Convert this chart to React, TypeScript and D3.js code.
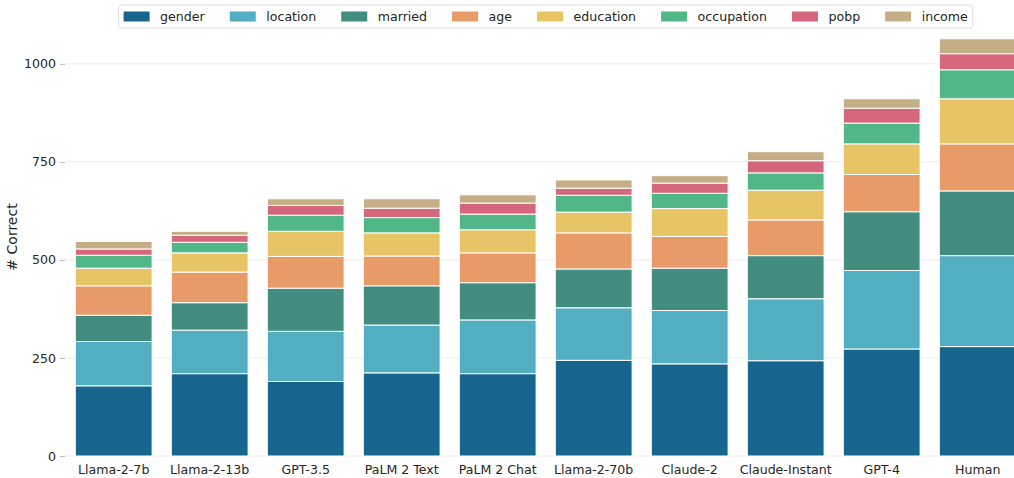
import React, { useEffect, useRef } from 'react';
import * as d3 from 'd3';

const models = ['Llama-2-7b', 'Llama-2-13b', 'GPT-3.5', 'PaLM 2 Text', 'PaLM 2 Chat', 'Llama-2-70b', 'Claude-2', 'Claude-Instant', 'GPT-4', 'Human'];
const attributes = ['gender', 'location', 'married', 'age', 'education', 'occupation', 'pobp', 'income'];
const colors = ['#17648d', '#52aec1', '#428c80', '#e69b68', '#e7c566', '#52b788', '#d5677d', '#c5ad85'];

// per-attribute counts, one value per model (same order as models)
const gender = [179, 210, 190, 212, 210, 244, 235, 243, 273, 279];
const location = [113, 111, 128, 122, 137, 134, 136, 158, 200, 232];
const married = [67, 70, 110, 100, 95, 99, 108, 110, 150, 165];
const age = [75, 78, 81, 76, 76, 92, 81, 91, 95, 120];
const education = [45, 49, 64, 59, 59, 53, 71, 76, 78, 115];
const occupation = [33, 27, 41, 39, 40, 43, 39, 44, 53, 74];
const pobp = [16, 18, 25, 24, 28, 18, 26, 31, 38, 41];
const income = [19, 10, 17, 24, 21, 21, 19, 23, 24, 38];

const yTicks = [0, 250, 500, 750, 1000];

const W = 1014;
const H = 478;

export default function App() {
  const svgRef = useRef<SVGSVGElement>(null);

  useEffect(() => {
    const svg = d3.select(svgRef.current);
    svg.selectAll('*').remove();

    const font = 'DejaVu Sans, sans-serif';
    const fs = 12.6;
    const series = [gender, location, married, age, education, occupation, pobp, income];
    const rows = models.map((m, i) => {
      const r: any = { model: m };
      attributes.forEach((a, j) => { r[a] = series[j][i]; });
      return r;
    });
    const stacked = d3.stack().keys(attributes)(rows);

    const x = d3.scaleBand().domain(models).range([65.7, 1025.7]).paddingInner(0.2).paddingOuter(0.1);
    const y = d3.scaleLinear().domain([0, 1117]).range([456, 18]);
    const color = d3.scaleOrdinal<string>().domain(attributes).range(colors);

    // grid
    svg.append('g')
      .selectAll('line')
      .data(yTicks)
      .join('line')
      .attr('x1', 65.7).attr('x2', W)
      .attr('y1', d => y(d)).attr('y2', d => y(d))
      .attr('stroke', '#ebebeb').attr('stroke-width', 1);

    // y axis
    const yAxis = svg.append('g')
      .attr('transform', 'translate(65,0)')
      .call(d3.axisLeft(y).tickValues(yTicks).tickFormat(d3.format('d')).tickSize(5).tickPadding(4));
    yAxis.select('.domain').remove();
    yAxis.selectAll('.tick line').attr('stroke', '#bbb');
    yAxis.selectAll('text').attr('font-family', font).attr('font-size', fs).attr('fill', '#262626');

    // x axis labels
    const xAxis = svg.append('g')
      .attr('transform', 'translate(0,456)')
      .call(d3.axisBottom(x).tickSize(0).tickPadding(9));
    xAxis.select('.domain').remove();
    xAxis.selectAll('text').attr('font-family', font).attr('font-size', fs).attr('fill', '#262626');

    // bars
    svg.append('g')
      .selectAll('g')
      .data(stacked)
      .join('g')
      .attr('fill', d => color(d.key))
      .selectAll('rect')
      .data(d => d)
      .join('rect')
      .attr('x', d => x(d.data.model as string)!)
      .attr('width', x.bandwidth())
      .attr('y', d => y(d[1]))
      .attr('height', d => y(d[0]) - y(d[1]))
      .attr('stroke', 'white')
      .attr('stroke-width', 1);

    // y label
    svg.append('text')
      .attr('transform', `translate(17,${y(1117 / 2)}) rotate(-90)`)
      .attr('text-anchor', 'middle')
      .attr('font-family', font)
      .attr('font-size', 14)
      .attr('fill', '#262626')
      .text('# Correct');

    // legend
    const handle = 26;
    const textPad = 10.5;
    const colSpace = 25;
    const legend = svg.append('g');
    const box = legend.append('rect')
      .attr('fill', 'white').attr('fill-opacity', 0.85)
      .attr('stroke', '#dddddd').attr('rx', 3);
    let cx = 0;
    attributes.forEach(a => {
      const g = legend.append('g').attr('transform', `translate(${cx},0)`);
      g.append('rect').attr('x', 0).attr('y', -5).attr('width', handle).attr('height', 10).attr('fill', color(a));
      const t = g.append('text')
        .attr('x', handle + textPad).attr('y', 0).attr('dy', '0.35em')
        .attr('font-family', font).attr('font-size', fs).attr('fill', '#262626')
        .text(a);
      const tw = (t.node() as SVGTextElement).getComputedTextLength();
      cx += handle + textPad + tw + colSpace;
    });
    const totalW = cx - colSpace;
    const center = (65.7 + 1025.7) / 2;
    const lx = center - totalW / 2;
    legend.attr('transform', `translate(${lx},16.5)`);
    box.attr('x', -5).attr('y', -11.5).attr('width', totalW + 10).attr('height', 23);
  }, []);

  return (
    <div>
      <style>{`body { margin: 0; }`}</style>
      <svg ref={svgRef} width={W} height={H} style={{ display: 'block', background: 'white' }} />
    </div>
  );
}
